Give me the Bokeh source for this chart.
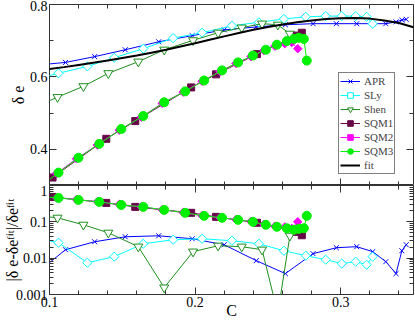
import numpy as np
from bokeh.plotting import figure
from bokeh.models import (Range1d, LinearAxis, LogAxis, FixedTicker, Legend, LegendItem,
                          CustomJSTickFormatter)
from bokeh.layouts import column
from bokeh.embed import file_html
from bokeh.resources import INLINE

# ---------------- data ----------------
apr_c = [0.090, 0.111, 0.131, 0.152, 0.175, 0.198, 0.220, 0.242, 0.262, 0.281, 0.297,
         0.311, 0.322, 0.331, 0.338, 0.342, 0.345]
apr_de = [0.632, 0.640, 0.656, 0.675, 0.697, 0.714, 0.730, 0.738, 0.744, 0.747, 0.747,
          0.747, 0.747, 0.747, 0.752, 0.757, 0.759]
apr_res = [0.0036, 0.0171, 0.0283, 0.0388, 0.0413, 0.0342, 0.0234, 0.00855, 0.00376, 0.0133,
           0.0194, 0.0207, 0.0151, 0.0080, 0.00376, 0.0160, 0.0234]

sly_c = [0.086, 0.1062, 0.1260, 0.1445, 0.1644, 0.1849, 0.2048, 0.2253, 0.2438, 0.2610,
         0.2760, 0.2897, 0.3007, 0.3103, 0.3178, 0.3219]
sly_de = [0.590, 0.610, 0.629, 0.653, 0.678, 0.707, 0.722, 0.741, 0.751, 0.760, 0.766,
          0.768, 0.768, 0.768, 0.766, 0.747]
sly_res = [0.039, 0.0266, 0.0075, 0.0110, 0.0249, 0.0321, 0.0342, 0.0302, 0.0249, 0.0160,
           0.0117, 0.0091, 0.0071, 0.0080, 0.0066, 0.0110]

shen_c = [0.090, 0.1055, 0.1233, 0.1404, 0.161, 0.1788, 0.1986, 0.2158, 0.232, 0.246,
          0.2568, 0.2651]
shen_de = [0.517, 0.544, 0.574, 0.610, 0.642, 0.675, 0.701, 0.722, 0.736, 0.747, 0.744, 0.719]
shen_res = [0.150, 0.129, 0.0828, 0.050, 0.0207, 0.00155, 0.0151, 0.022, 0.0207, 0.0171,
            0.0003, 0.0413]

sqm1_c = [0.1021, 0.1390, 0.1589, 0.1973, 0.2144, 0.2425, 0.2699, 0.2733]
sqm1_de = [0.322, 0.429, 0.478, 0.571, 0.607, 0.663, 0.714, 0.722]
sqm1_res = [0.484, 0.332, 0.258, 0.177, 0.137, 0.094, 0.053, 0.0427]

sqm2_c = [0.1048, 0.1185, 0.1329, 0.1479, 0.1630, 0.1774, 0.1918, 0.2048, 0.2171, 0.2281,
          0.2384, 0.2473, 0.2548, 0.2616, 0.2664, 0.2705]
sqm2_de = [0.333, 0.374, 0.412, 0.453, 0.489, 0.527, 0.558, 0.588, 0.615, 0.637, 0.656,
           0.673, 0.685, 0.692, 0.695, 0.678]
sqm2_res = [0.46, 0.41, 0.36, 0.30, 0.26, 0.215, 0.18, 0.148, 0.13, 0.115, 0.102, 0.085,
            0.076, 0.072, 0.066, 0.10]

sqm3_c = [0.092, 0.1062, 0.1199, 0.1342, 0.1493, 0.1644, 0.1788, 0.1932, 0.2062, 0.2185,
          0.2295, 0.2397, 0.2486, 0.2562, 0.2630, 0.2678, 0.2712, 0.2747, 0.2767]
sqm3_de = [0.292, 0.3356, 0.3767, 0.415, 0.456, 0.492, 0.530, 0.560, 0.590, 0.618, 0.640,
           0.659, 0.675, 0.689, 0.699, 0.705, 0.708, 0.705, 0.645]
sqm3_res = [0.50, 0.455, 0.401, 0.353, 0.292, 0.258, 0.213, 0.177, 0.146, 0.129, 0.1135,
            0.100, 0.0828, 0.0730, 0.0664, 0.0604, 0.064, 0.0664, 0.146]

fit_c = [0.10, 0.11, 0.12, 0.13, 0.14, 0.15, 0.16, 0.17, 0.18, 0.19, 0.20, 0.21, 0.22,
         0.23, 0.24, 0.25, 0.26, 0.27, 0.28, 0.29, 0.30, 0.31, 0.32, 0.33, 0.34, 0.35]
fit_de = [0.622, 0.627, 0.633, 0.639, 0.645, 0.652, 0.659, 0.667, 0.675, 0.684, 0.693,
          0.7025, 0.712, 0.721, 0.730, 0.738, 0.745, 0.751, 0.756, 0.760, 0.762, 0.763,
          0.761, 0.756, 0.749, 0.737]

x_major = [0.1, 0.2, 0.3]
x_minor = [0.12, 0.14, 0.16, 0.18, 0.22, 0.24, 0.26, 0.28, 0.32, 0.34]
y1_major = [0.4, 0.6, 0.8]
y1_minor = [0.3, 0.5, 0.7]
y2_major = [0.001, 0.01, 0.1, 1.0]
y2_minor = [k * d for d in (0.001, 0.01, 0.1) for k in range(2, 10)]

# ---------------- styling ----------------
FONT = "Liberation Serif"
AX = "#333333"

C_APR = "#0000ff"
C_SLY = "#00ffff"
C_SHEN = "#1f8f1f"
C_SQM1 = "#670748"
C_SQM2 = "#ff00ff"
C_SQM3 = "#00f000"


def setup_axis(ax, ticks, minor, show):
    ax.ticker = FixedTicker(ticks=ticks, minor_ticks=minor)
    ax.axis_line_color = None
    ax.major_tick_in = 7
    ax.major_tick_out = 0
    ax.minor_tick_in = 4
    ax.minor_tick_out = 0
    ax.major_tick_line_color = AX
    ax.minor_tick_line_color = AX
    ax.axis_label_text_font = FONT
    ax.axis_label_text_font_style = "normal"
    ax.axis_label_text_font_size = "16px"
    ax.axis_label_text_color = "black"
    ax.axis_label_standoff = 0
    if show:
        ax.major_label_text_font = FONT
        ax.major_label_text_font_size = "14px"
        ax.major_label_text_color = "black"
        ax.major_label_standoff = 2
    else:
        ax.major_label_text_font_size = "1px"
        ax.major_label_text_color = None
        ax.major_label_standoff = 0


def make_fig(fh, yr, ylog, top):
    p = figure(frame_width=364, frame_height=fh, x_range=Range1d(0.1, 0.35), y_range=yr,
               y_axis_type="log" if ylog else "linear",
               output_backend="svg", toolbar_location=None,
               min_border_left=49, min_border_right=2, min_border_top=top,
               min_border_bottom=0, background_fill_color="white",
               border_fill_color="white", outline_line_color=AX, outline_line_width=1)
    p.grid.visible = False
    return p


p1 = make_fig(181, Range1d(0.3, 0.8), False, 4)
p2 = make_fig(109, Range1d(0.001, 1.0), True, 0)

# axes of p1
setup_axis(p1.xaxis[0], x_major, x_minor, False)
setup_axis(p1.yaxis[0], y1_major, y1_minor, True)
p1.yaxis[0].axis_label = "δ e"
a = LinearAxis(); setup_axis(a, x_major, x_minor, False); p1.add_layout(a, "above")
a = LinearAxis(); setup_axis(a, y1_major, y1_minor, False); p1.add_layout(a, "right")

# axes of p2
setup_axis(p2.xaxis[0], x_major, x_minor, True)
p2.xaxis[0].axis_label = "C"
p2.xaxis[0].axis_label_standoff = -8
setup_axis(p2.yaxis[0], y2_major, y2_minor, True)
p2.yaxis[0].formatter = CustomJSTickFormatter(code="return tick.toString();")
p2.yaxis[0].axis_label = "|δ e-δe\u1da0\u2071\u1d57|/δe\u1da0\u2071\u1d57"
p2.yaxis[0].axis_label_standoff = -8
a = LinearAxis(); setup_axis(a, x_major, x_minor, False); p2.add_layout(a, "above")
a = LogAxis(); setup_axis(a, y2_major, y2_minor, False); p2.add_layout(a, "right")


def series(p, c, v, color, marker, size, fill, angle=0.0):
    l = p.line(c, v, line_color=color, line_width=1)
    s = p.scatter(c, v, marker=marker, size=size, line_color=color, fill_color=fill,
                  line_width=1, angle=angle)
    return [l, s]


specs = [
    ("APR", apr_c, apr_de, apr_res, C_APR, "x", 7, None, 0.0),
    ("SLy", sly_c, sly_de, sly_res, C_SLY, "square", 6.5, "white", np.pi / 4),
    ("Shen", shen_c, shen_de, shen_res, C_SHEN, "inverted_triangle", 9, "white", 0.0),
    ("SQM1", sqm1_c, sqm1_de, sqm1_res, C_SQM1, "square", 7, C_SQM1, 0.0),
    ("SQM2", sqm2_c, sqm2_de, sqm2_res, C_SQM2, "square", 6, C_SQM2, np.pi / 4),
    ("SQM3", sqm3_c, sqm3_de, sqm3_res, C_SQM3, "circle", 9, C_SQM3, 0.0),
]

items = []
for name, c, de, res, col, mk, sz, fill, ang in specs:
    r = series(p1, c, de, col, mk, sz, fill, ang)
    series(p2, c, res, col, mk, sz, fill, ang)
    items.append(LegendItem(label=name, renderers=r))

fl = p1.line(fit_c, fit_de, line_color="black", line_width=2)
items.append(LegendItem(label="fit", renderers=[fl]))

legend = Legend(items=items, location=(289, 11), border_line_color="black",
                border_line_width=1, background_fill_color="white", background_fill_alpha=1,
                label_text_font=FONT, label_text_font_size="11px",
                label_text_line_height=1.0, glyph_width=20,
                glyph_height=14, label_height=14, label_standoff=4, spacing=0,
                padding=1, margin=0)
p1.add_layout(legend)

layout = column(p1, p2, spacing=0)
open("out.html", "w").write(file_html(layout, INLINE))
